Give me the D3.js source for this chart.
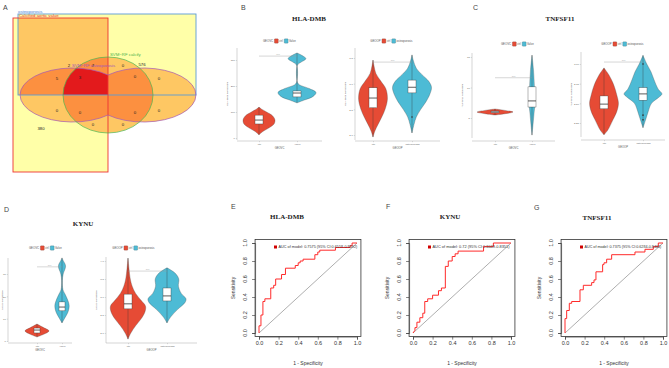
<!DOCTYPE html>
<html>
<head>
<meta charset="utf-8">
<script src="https://cdn.jsdelivr.net/npm/d3@7"></script>
<style>
  body { margin: 0; background: #fff; }
  svg { display: block; font-family: "Liberation Sans", Arial, sans-serif; }
</style>
</head>
<body>
<script>
// ---- Venn (panel A) ----
var vennSetNames = ["osteoporosis", "Calcified aortic value", "SVM\u2212RF calcify", "SVM\u2212RF osteoporosis"];
var vennCounts = [576, 380, 2, 7, 0, 5, 3, 0, 0, 0, 0, 0, 0, 0, 0];

// ---- violin panels (B, C, D): [value, relative density] ----
var calcGroups = ["ctrl", "Valve"];
var osteoGroups = ["ctrl", "osteoporosis"];

var hladmbCalcTicks = [0, 100, 200, 300];
var hladmbCalcCtrl = [[12,0],[25,0.2],[40,0.55],[55,0.8],[69,0.84],[85,0.72],[100,0.4],[112,0.12],[119,0]];
var hladmbCalcCase = [[135,0],[145,0.35],[160,0.85],[175,1.0],[190,0.65],[205,0.12],[215,0.02],[280,0.02],[292,0.22],[305,0.47],[318,0.25],[327,0]];
var hladmbCalcBox = [[54,69,88],[158,173,181]];
var hladmbCalcOut = [[],[]];
var hladmbCalcP = 315;

var hladmbOsteoTicks = [2.0, 2.5, 3.0, 3.5];
var hladmbOsteoCtrl = [[1.96,0],[2.08,0.1],[2.2,0.25],[2.35,0.45],[2.5,0.62],[2.7,0.74],[2.9,0.66],[3.05,0.4],[3.2,0.15],[3.35,0.05],[3.46,0]];
var hladmbOsteoCase = [[2.04,0],[2.2,0.1],[2.35,0.22],[2.5,0.45],[2.65,0.72],[2.8,0.92],[2.93,1.0],[3.05,0.85],[3.18,0.5],[3.3,0.22],[3.45,0.07],[3.56,0]];
var hladmbOsteoBox = [[2.53,2.72,2.92],[2.82,2.93,3.07]];
var hladmbOsteoOut = [[],[2.35]];
var hladmbOsteoP = 3.42;

var tnfCalcTicks = [5, 10, 15];
var tnfCalcCtrl = [[5.49,0],[5.7,0.55],[5.98,1.0],[6.25,0.55],[6.48,0]];
var tnfCalcCase = [[2.2,0],[4,0.06],[6,0.12],[7.5,0.17],[9,0.15],[11,0.12],[13,0.08],[15.3,0]];
var tnfCalcBox = [[5.85,6.0,6.15],[6.8,7.8,10.1]];
var tnfCalcOut = [[],[]];
var tnfCalcP = 11.6;

var tnfOsteoTicks = [2.25, 2.50, 2.75, 3.00];
var tnfOsteoCtrl = [[2.10,0],[2.16,0.2],[2.29,0.47],[2.4,0.68],[2.5,0.76],[2.6,0.68],[2.73,0.52],[2.86,0.26],[2.95,0]];
var tnfOsteoCase = [[2.19,0],[2.3,0.15],[2.4,0.28],[2.5,0.45],[2.58,0.85],[2.62,1.0],[2.68,0.8],[2.8,0.58],[2.9,0.42],[3.0,0.2],[3.11,0]];
var tnfOsteoBox = [[2.43,2.49,2.594],[2.54,2.62,2.70]];
var tnfOsteoOut = [[],[3.0,2.35,2.29]];
var tnfOsteoP = 3.025;

var kynuCalcTicks = [0, 10, 20, 30];
var kynuCalcCtrl = [[1.8,0],[3,0.55],[4.5,1.0],[6,0.55],[7.6,0]];
var kynuCalcCase = [[8.1,0],[10,0.2],[13,0.5],[15.7,0.6],[18,0.5],[21,0.25],[23,0.08],[27,0.03],[30,0.1],[33.6,0.3],[36,0.1],[37.2,0]];
var kynuCalcBox = [[3.6,4.9,5.8],[13.5,15.2,17.5]];
var kynuCalcOut = [[],[]];
var kynuCalcP = 33.2;

var kynuOsteoTicks = [2.0, 2.5, 3.0, 3.5, 4.0];
var kynuOsteoCtrl = [[1.83,0],[2.0,0.15],[2.2,0.4],[2.4,0.7],[2.6,0.9],[2.75,0.92],[2.9,0.7],[3.1,0.4],[3.3,0.22],[3.5,0.12],[3.8,0.05],[4.08,0]];
var kynuOsteoCase = [[2.28,0],[2.45,0.2],[2.65,0.55],[2.85,0.95],[2.95,1.0],[3.1,0.75],[3.3,0.6],[3.5,0.62],[3.65,0.45],[3.75,0.2],[3.81,0]];
var kynuOsteoBox = [[2.67,2.81,3.08],[2.89,3.03,3.25]];
var kynuOsteoOut = [[],[]];
var kynuOsteoP = 3.72;

// ---- ROC panels (E, F, G): [1 - specificity, sensitivity] ----
var rocTicks = [0, 0.2, 0.4, 0.6, 0.8, 1.0];
var rocHladmb = [[0,0],[0,0.08],[0.02,0.08],[0.02,0.2],[0.04,0.2],[0.04,0.35],[0.06,0.35],[0.06,0.38],[0.12,0.38],[0.12,0.5],[0.15,0.5],[0.15,0.53],[0.17,0.53],[0.17,0.6],[0.23,0.6],[0.23,0.65],[0.27,0.65],[0.27,0.72],[0.37,0.72],[0.37,0.75],[0.4,0.75],[0.4,0.78],[0.42,0.78],[0.42,0.8],[0.45,0.8],[0.45,0.82],[0.57,0.82],[0.57,0.87],[0.6,0.87],[0.6,0.9],[0.62,0.9],[0.62,0.92],[0.78,0.92],[0.78,0.95],[0.93,0.95],[0.93,0.97],[0.95,0.97],[0.95,1],[1,1]];
var rocKynu = [[0,0],[0.02,0.03],[0.02,0.06],[0.04,0.06],[0.04,0.12],[0.07,0.12],[0.07,0.17],[0.1,0.17],[0.1,0.22],[0.12,0.22],[0.12,0.35],[0.15,0.35],[0.15,0.38],[0.2,0.38],[0.2,0.42],[0.26,0.42],[0.26,0.47],[0.29,0.47],[0.29,0.5],[0.33,0.5],[0.33,0.74],[0.36,0.74],[0.36,0.8],[0.4,0.8],[0.4,0.85],[0.43,0.85],[0.43,0.88],[0.46,0.88],[0.46,0.91],[0.72,0.91],[0.72,0.96],[0.82,0.96],[0.82,1],[1,1]];
var rocTnf = [[0,0],[0,0.16],[0.017,0.16],[0.017,0.25],[0.044,0.25],[0.044,0.33],[0.068,0.33],[0.068,0.35],[0.153,0.35],[0.153,0.48],[0.187,0.48],[0.187,0.53],[0.272,0.53],[0.272,0.56],[0.296,0.56],[0.296,0.59],[0.316,0.59],[0.316,0.68],[0.384,0.68],[0.384,0.76],[0.398,0.76],[0.398,0.78],[0.425,0.78],[0.425,0.82],[0.476,0.82],[0.476,0.87],[0.714,0.87],[0.714,0.9],[0.816,0.9],[0.816,0.93],[0.901,0.93],[0.901,0.96],[0.952,0.96],[0.952,1],[1,1]];
var rocLabels = ["AUC of model: 0.7575 (95% CI:0.6558-0.8592)", "AUC of model: 0.72 (95% CI:0.6049-0.8351)", "AUC of model: 0.7375 (95% CI:0.6284-0.8466)"];

var RED = "#E64B35", BLUE = "#4DBBD5";

var svg = d3.select("body").append("svg")
  .attr("width", 669)
  .attr("height", 368);

// panel letters
[["A",3,10],["B",241,10],["C",473,10],["D",4,212],["E",231,209],["F",386,209],["G",534,210]].forEach(function(p) {
  svg.append("text").attr("x", p[1]).attr("y", p[2]).attr("font-size", 7).attr("fill", "#444").text(p[0]);
});

function title(txt, x, y) {
  svg.append("text").attr("x", x).attr("y", y).attr("text-anchor", "middle")
    .attr("font-family", "Liberation Serif, serif").attr("font-weight", "bold")
    .attr("font-size", 7).attr("fill", "#222").text(txt);
}

// ================= Venn =================
function drawVenn() {
  var Y = "#ffffa8", LO = "#fec763", O = "#fc9040", R = "#e31a1c";
  var blue = {x: 18, y: 14, w: 178, h: 81};
  var red = {x: 13, y: 18, w: 95, h: 154};
  var green = {cx: 108, cy: 95, rx: 45, ry: 38};
  var purple = "M108,75 A52.6,27 0 1,0 108,115 A52.6,27 0 1,0 108,75 Z";
  var defs = svg.append("defs");
  defs.append("clipPath").attr("id", "cRB").append("rect")
    .attr("x", blue.x).attr("y", red.y).attr("width", red.x + red.w - blue.x).attr("height", blue.y + blue.h - red.y);
  defs.append("clipPath").attr("id", "cG").append("ellipse")
    .attr("cx", green.cx).attr("cy", green.cy).attr("rx", green.rx).attr("ry", green.ry);

  var g = svg.append("g");
  function rect(p, fill) { return g.append("rect").attr("x", p.x).attr("y", p.y).attr("width", p.w).attr("height", p.h).attr("fill", fill); }
  function greenEl(parent, fill) {
    return parent.append("ellipse").attr("cx", green.cx).attr("cy", green.cy).attr("rx", green.rx).attr("ry", green.ry).attr("fill", fill);
  }
  rect(blue, Y);
  rect(red, Y);
  g.append("rect").attr("clip-path", "url(#cRB)").attr("x", 0).attr("y", 0).attr("width", 300).attr("height", 300).attr("fill", LO);
  g.append("path").attr("d", purple).attr("fill", LO);
  greenEl(g, LO);
  var rb = g.append("g").attr("clip-path", "url(#cRB)");
  rb.append("path").attr("d", purple).attr("fill", O);
  greenEl(rb, O);
  g.append("g").attr("clip-path", "url(#cG)").append("path").attr("d", purple).attr("fill", O);
  g.append("g").attr("clip-path", "url(#cRB)")
    .append("g").attr("clip-path", "url(#cG)")
    .append("path").attr("d", purple).attr("fill", R);

  rect(blue, "none").attr("stroke", "#5b9bd5").attr("stroke-width", 0.9);
  rect(red, "none").attr("stroke", "#ee3333").attr("stroke-width", 0.9);
  g.append("path").attr("d", purple).attr("fill", "none").attr("stroke", "#a457b8").attr("stroke-width", 0.7);
  greenEl(g, "none").attr("stroke", "#4cb34f").attr("stroke-width", 0.7);

  var setSpots = [[18,12.8,"#4a86d8"],[19,17.2,"#e83030"],[110,55.5,"#4cb34f"],[72,66.5,"#a457b8"]];
  vennSetNames.forEach(function(n, i) {
    g.append("text").attr("x", setSpots[i][0]).attr("y", setSpots[i][1]).attr("font-size", 4.3)
      .attr("fill", setSpots[i][2]).text(n);
  });
  var spots = [[142,65],[41,129],[69,66],[93,66],[123,66],[57,79],[80,78],[135,77],[159,79],[57,111],[80,113],[135,113],[159,111],[93,125],[123,125]];
  vennCounts.forEach(function(c, i) {
    g.append("text").attr("x", spots[i][0]).attr("y", spots[i][1]).attr("font-size", 4.3)
      .attr("text-anchor", "middle").attr("dominant-baseline", "middle").attr("fill", "#222").text(c);
  });
}
drawVenn();

// ================= violins =================
function legend(cx, cy, head, labels) {
  var lg = svg.append("g");
  var pos = 0;
  var t = lg.append("text").attr("x", pos).attr("y", cy).attr("font-size", 2.8).attr("fill", "#555")
    .attr("dominant-baseline", "middle").text(head);
  pos += t.node().getComputedTextLength() + 1.3;
  labels.forEach(function(lab, i) {
    lg.append("rect").attr("x", pos).attr("y", cy - 2.2).attr("width", 4).attr("height", 4.4).attr("rx", 0.7)
      .attr("fill", i ? BLUE : RED).attr("stroke", "#444").attr("stroke-width", 0.2);
    pos += 4.8;
    var tt = lg.append("text").attr("x", pos).attr("y", cy).attr("font-size", 2.8).attr("fill", "#555")
      .attr("dominant-baseline", "middle").text(lab);
    pos += tt.node().getComputedTextLength() + 1.3;
  });
  lg.attr("transform", "translate(" + (cx - pos / 2) + ",0)");
}

function violinPanel(c) {
  var y = d3.scaleLinear().domain([c.ticks[0], c.ticks[c.ticks.length - 1]]).range(c.tickPx);
  var x = d3.scalePoint().domain(c.groups).range(c.catPx);
  var w = d3.scaleLinear().domain([0, 1]).range([0, c.unit]);
  var g = svg.append("g");

  // axes
  g.append("line").attr("x1", c.axisX).attr("x2", c.axisX).attr("y1", c.axisSpan[0]).attr("y2", c.axisSpan[1])
    .attr("stroke", "#aaa").attr("stroke-width", 0.5);
  g.append("line").attr("x1", c.axisX).attr("x2", c.right).attr("y1", c.baseY).attr("y2", c.baseY)
    .attr("stroke", "#aaa").attr("stroke-width", 0.5);
  var ay = g.append("g").attr("transform", "translate(" + c.axisX + ",0)")
    .call(d3.axisLeft(y).tickValues(c.ticks).tickSize(1.2).tickPadding(1).tickFormat(c.fmt));
  ay.select(".domain").remove();
  ay.selectAll("line").attr("stroke", "#aaa").attr("stroke-width", 0.4);
  ay.selectAll("text").attr("font-size", 2.5).attr("fill", "#666");
  var ax = g.append("g").attr("transform", "translate(0," + c.baseY + ")")
    .call(d3.axisBottom(x).tickSize(1.2).tickPadding(1));
  ax.select(".domain").remove();
  ax.selectAll("line").attr("stroke", "#aaa").attr("stroke-width", 0.4);
  ax.selectAll("text").attr("font-size", 2.5).attr("fill", "#666");
  g.append("text").attr("x", (c.axisX + c.right) / 2).attr("y", c.baseY + 8).attr("text-anchor", "middle")
    .attr("font-size", 2.7).attr("fill", "#555").text(c.xTitle);
  var my = (c.axisSpan[0] + c.axisSpan[1]) / 2;
  g.append("text").attr("transform", "translate(" + Math.max(c.axisX - 9, 3) + "," + my + ") rotate(-90)")
    .attr("text-anchor", "middle").attr("font-size", 2.5).attr("fill", "#555").text(c.yTitle);

  // violins
  var area = d3.area().curve(d3.curveCatmullRom.alpha(0.5))
    .y(function(d) { return y(d[0]); });
  c.profiles.forEach(function(p, i) {
    var cx = x(c.groups[i]);
    area.x0(function(d) { return cx - w(d[1]); }).x1(function(d) { return cx + w(d[1]); });
    g.append("path").datum(p).attr("d", area).attr("fill", i ? BLUE : RED)
      .attr("stroke", "#444").attr("stroke-width", 0.3);
    var ext = d3.extent(p, function(d) { return d[0]; });
    g.append("line").attr("x1", cx).attr("x2", cx).attr("y1", y(ext[0])).attr("y2", y(ext[1]))
      .attr("stroke", "#333").attr("stroke-width", 0.35);
    var b = c.boxes[i];
    g.append("rect").attr("x", cx - c.boxW / 2).attr("width", c.boxW)
      .attr("y", y(b[2])).attr("height", y(b[0]) - y(b[2]))
      .attr("fill", "#fff").attr("stroke", "#333").attr("stroke-width", 0.35);
    g.append("line").attr("x1", cx - c.boxW / 2).attr("x2", cx + c.boxW / 2).attr("y1", y(b[1])).attr("y2", y(b[1]))
      .attr("stroke", "#333").attr("stroke-width", 0.8);
    c.outliers[i].forEach(function(o) {
      g.append("circle").attr("cx", cx).attr("cy", y(o)).attr("r", 0.8).attr("fill", "#333");
    });
  });

  // significance bracket
  var by = y(c.pY);
  g.append("line").attr("x1", x(c.groups[0])).attr("x2", x(c.groups[1])).attr("y1", by).attr("y2", by)
    .attr("stroke", "#999").attr("stroke-width", 0.4);
  g.append("text").attr("x", (x(c.groups[0]) + x(c.groups[1])) / 2).attr("y", by - 1).attr("text-anchor", "middle")
    .attr("font-size", 2.4).attr("fill", "#777").text("****");

  legend(c.legend[0], c.legend[1], c.xTitle, c.groups);
}

title("HLA-DMB", 309, 21);
violinPanel({ticks: hladmbCalcTicks, tickPx: [138, 60], axisSpan: [48, 140], axisX: 237, right: 322, baseY: 141,
  groups: calcGroups, catPx: [259, 297], unit: 19, boxW: 8, fmt: d3.format("d"),
  profiles: [hladmbCalcCtrl, hladmbCalcCase], boxes: hladmbCalcBox, outliers: hladmbCalcOut, pY: hladmbCalcP,
  xTitle: "GEOVC", yTitle: "HLA-DMB expression", legend: [280, 41]});
violinPanel({ticks: hladmbOsteoTicks, tickPx: [135, 58], axisSpan: [48, 140], axisX: 355, right: 440, baseY: 141,
  groups: osteoGroups, catPx: [373, 412], unit: 19.5, boxW: 8, fmt: d3.format(".1f"),
  profiles: [hladmbOsteoCtrl, hladmbOsteoCase], boxes: hladmbOsteoBox, outliers: hladmbOsteoOut, pY: hladmbOsteoP,
  xTitle: "GEOOP", yTitle: "HLA-DMB expression", legend: [392, 41]});

title("TNFSF11", 560, 21);
violinPanel({ticks: tnfCalcTicks, tickPx: [118, 57], axisSpan: [53, 138], axisX: 472, right: 555, baseY: 141,
  groups: calcGroups, catPx: [495, 532], unit: 18, boxW: 8, fmt: d3.format("d"),
  profiles: [tnfCalcCtrl, tnfCalcCase], boxes: tnfCalcBox, outliers: tnfCalcOut, pY: tnfCalcP,
  xTitle: "GEOVC", yTitle: "TNFSF11 expression", legend: [518, 44]});
violinPanel({ticks: tnfOsteoTicks, tickPx: [123, 64], axisSpan: [52, 137], axisX: 581, right: 665, baseY: 140,
  groups: osteoGroups, catPx: [604, 643], unit: 19, boxW: 8, fmt: d3.format(".2f"),
  profiles: [tnfOsteoCtrl, tnfOsteoCase], boxes: tnfOsteoBox, outliers: tnfOsteoOut, pY: tnfOsteoP,
  xTitle: "GEOOP", yTitle: "TNFSF11 expression", legend: [623, 44]});

title("KYNU", 83, 226);
violinPanel({ticks: kynuCalcTicks, tickPx: [341, 274], axisSpan: [258, 342], axisX: 8, right: 72, baseY: 343,
  groups: calcGroups, catPx: [37, 62], unit: 12, boxW: 6, fmt: d3.format("d"),
  profiles: [kynuCalcCtrl, kynuCalcCase], boxes: kynuCalcBox, outliers: kynuCalcOut, pY: kynuCalcP,
  xTitle: "GEOVC", yTitle: "KYNU expression", legend: [46, 248]});
violinPanel({ticks: kynuOsteoTicks, tickPx: [333, 261], axisSpan: [257, 343], axisX: 106, right: 197, baseY: 343,
  groups: osteoGroups, catPx: [128, 167], unit: 19, boxW: 8, fmt: d3.format(".1f"),
  profiles: [kynuOsteoCtrl, kynuOsteoCase], boxes: kynuOsteoBox, outliers: kynuOsteoOut, pY: kynuOsteoP,
  xTitle: "GEOOP", yTitle: "KYNU expression", legend: [134, 248]});

// ================= ROC =================
function rocPanel(pts, label, x0, txtLen) {
  var x = d3.scaleLinear().domain([0, 1]).range([x0, x0 + 98]);
  var y = d3.scaleLinear().domain([0, 1]).range([333, 243]);
  var g = svg.append("g");
  var L = x(-0.04), Rt = x(1.04), T = y(1.04), B = y(-0.04);

  g.append("line").attr("x1", x(0)).attr("y1", y(0)).attr("x2", x(1)).attr("y2", y(1))
    .attr("stroke", "#999").attr("stroke-width", 0.8);
  g.append("path").datum(pts)
    .attr("d", d3.line().x(function(d) { return x(d[0]); }).y(function(d) { return y(d[1]); }))
    .attr("fill", "none").attr("stroke", "#ff2a2a").attr("stroke-width", 1);
  g.append("rect").attr("x", L).attr("y", T).attr("width", Rt - L).attr("height", B - T)
    .attr("fill", "none").attr("stroke", "#333").attr("stroke-width", 0.8);

  var ax = g.append("g").attr("transform", "translate(0," + B + ")")
    .call(d3.axisBottom(x).tickValues(rocTicks).tickSize(3).tickPadding(2).tickFormat(d3.format(".1f")));
  ax.select(".domain").attr("stroke", "#333").attr("stroke-width", 0.6);
  ax.selectAll("line").attr("stroke", "#333").attr("stroke-width", 0.6);
  ax.selectAll("text").attr("font-size", 5.5).attr("fill", "#333");

  var ay = g.append("g").attr("transform", "translate(" + L + ",0)")
    .call(d3.axisLeft(y).tickValues(rocTicks).tickSize(3).tickFormat(""));
  ay.select(".domain").attr("stroke", "#333").attr("stroke-width", 0.6);
  ay.selectAll("line").attr("stroke", "#333").attr("stroke-width", 0.6);
  g.selectAll(".ylab").data(rocTicks).enter().append("text")
    .attr("transform", function(d) { return "translate(" + (L - 8) + "," + y(d) + ") rotate(-90)"; })
    .attr("text-anchor", "middle").attr("font-size", 5.5).attr("fill", "#333")
    .text(d3.format(".1f"));

  g.append("text").attr("transform", "translate(" + (L - 20) + "," + ((T + B) / 2) + ") rotate(-90)")
    .attr("text-anchor", "middle").attr("font-size", 5).attr("fill", "#333").text("Sensitivity");
  g.append("text").attr("x", (L + Rt) / 2).attr("y", B + 28).attr("text-anchor", "middle")
    .attr("font-size", 5).attr("fill", "#333").text("1 - Specificity");

  // legend: squeeze the long label horizontally to the width it takes in the figure
  g.append("rect").attr("x", x0 + 15).attr("y", y(1) + 2.5).attr("width", 3).attr("height", 3).attr("fill", "#d10000");
  var lt = g.append("text").attr("font-size", 4.3).attr("fill", "#333").text(label);
  var k = txtLen / lt.node().getComputedTextLength();
  lt.attr("transform", "translate(" + (x0 + 19.5) + "," + (y(1) + 5.4) + ") scale(" + k + ",1)");
}

title("HLA-DMB", 287, 219);
rocPanel(rocHladmb, rocLabels[0], 259, 79);
title("KYNU", 450, 219);
rocPanel(rocKynu, rocLabels[1], 413, 77);
title("TNFSF11", 597, 220);
rocPanel(rocTnf, rocLabels[2], 565, 77);
</script>
</body>
</html>
